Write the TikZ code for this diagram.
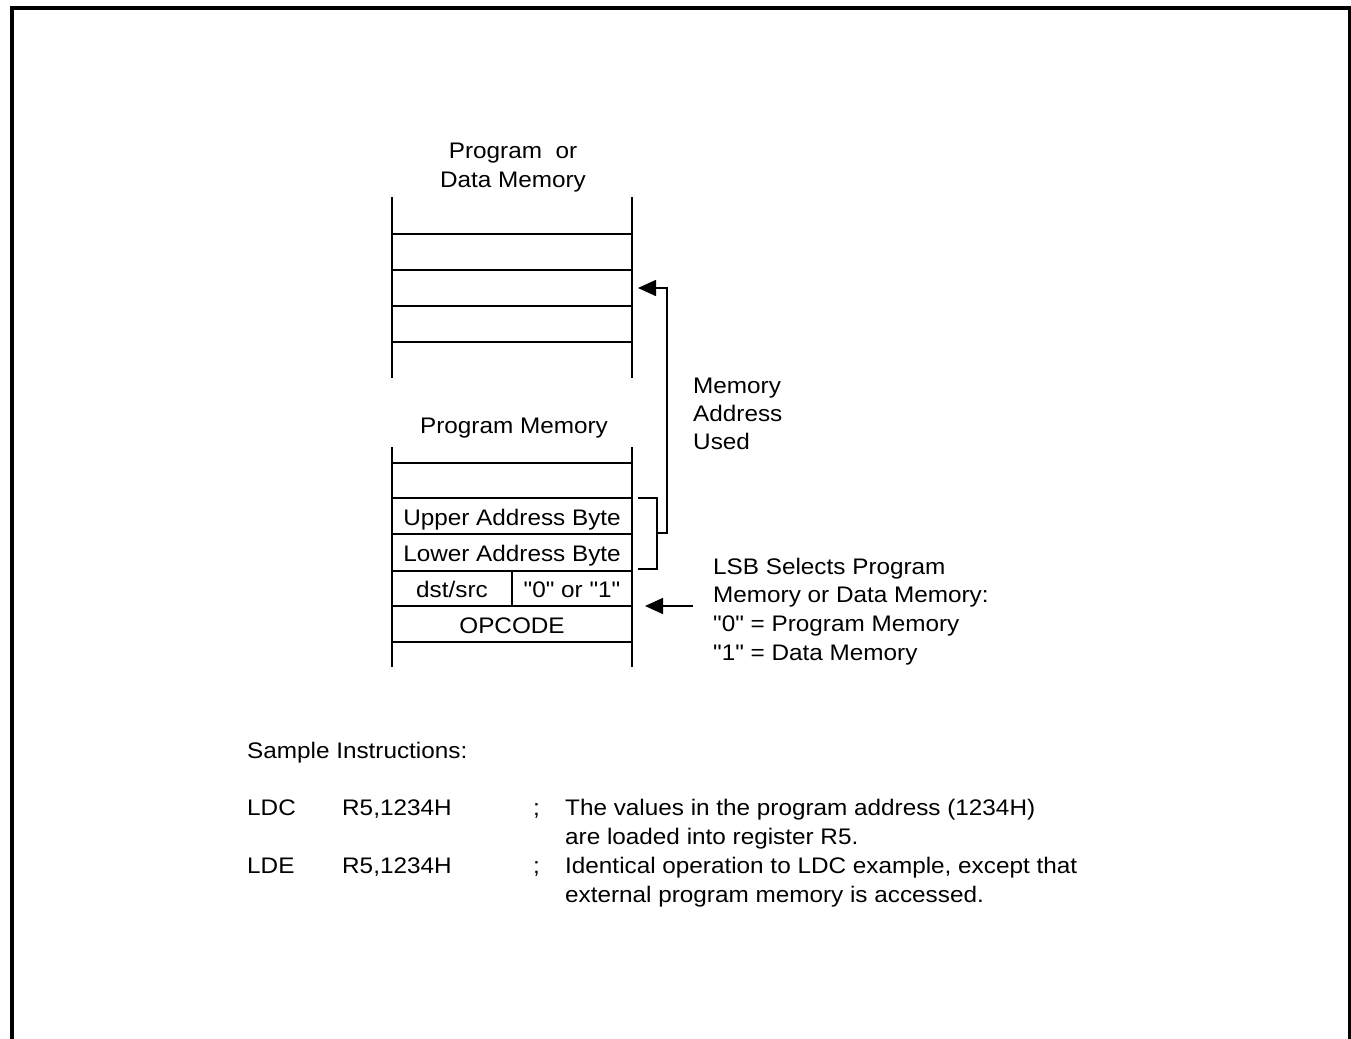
\documentclass[tikz,border=0pt]{standalone}
\usepackage{fontspec}
\setmainfont{Liberation Sans}[FakeStretch=1.08, Ligatures=TeXOff]
\usetikzlibrary{arrows.meta}
\begin{document}
\begin{tikzpicture}[x=1pt,y=-1pt,
  txt/.style={inner sep=0pt, font=\fontsize{22.5}{28.7}\selectfont},
  lbl/.style={txt, anchor=base},
  lft/.style={txt, anchor=base west},
  cellline/.style={line width=1.6pt},
  conn/.style={line width=1.6pt},
  arr/.style={conn, -{Triangle[length=18pt,width=16pt]}},
  frame/.style={line width=4pt}]
\useasboundingbox (0,0) rectangle (1351,1038);
% outer frame (open at the bottom)
\draw[frame] (12,1040) -- (12,8) -- (1350,8) -- (1350,1040);

% ---- Program or Data Memory
\node[lbl] (pdmtitle) at (513,158) {Program\ \ or};
\node[lbl] (pdmtitle2) at (513,187) {Data Memory};
\draw[cellline] (392,197) -- (392,378);
\draw[cellline] (632,197) -- (632,378);
\foreach \y in {234,270,306,342} \draw[cellline] (392,\y) -- (632,\y);

% ---- Program Memory
\node[lbl] (pmtitle) at (514,433) {Program Memory};
\draw[cellline] (392,447) -- (392,667);
\draw[cellline] (632,447) -- (632,667);
\foreach \y in {463,498,534,571,606,642} \draw[cellline] (392,\y) -- (632,\y);
\draw[cellline] (512,571) -- (512,606);
\node[lbl] (upper) at (512,525) {Upper Address Byte};
\node[lbl] (lower) at (512,561) {Lower Address Byte};
\node[lbl] (dst) at (452,597) {dst/src};
\node[lbl] (lsbcell) at (572,597) {"0" or "1"};
\node[lbl] (opcode) at (512,633) {OPCODE};

% ---- bracket and "Memory Address Used" arrow
\coordinate (bt) at (638,498);
\coordinate (bb) at (638,569);
\coordinate (bm) at (657,533);
\coordinate (target) at (638,288);
\draw[conn] (bt) -- (657,498) -- (657,569) -- (bb);
\draw[arr] (bm) -- (667,533) -- (667,288) -- (target);
\node[lft] (mau1) at (693,393) {Memory};
\node[lft] (mau2) at (693,421) {Address};
\node[lft] (mau3) at (693,449) {Used};

% ---- LSB arrow and text
\coordinate (lsbtail) at (693,606);
\coordinate (lsbtip) at (645,606);
\draw[arr] (lsbtail) -- (lsbtip);
\node[lft] (lsb1) at (713,574) {LSB Selects Program};
\node[lft] (lsb2) at (713,602.7) {Memory or Data Memory:};
\node[lft] (lsb3) at (713,631.4) {"0" = Program Memory};
\node[lft] (lsb4) at (713,660) {"1" = Data Memory};

% ---- Sample instructions
\node[lft] (sample) at (247,758) {Sample Instructions:};
\node[lft] (ldc) at (247,815) {LDC};
\node[lft] (ldcop) at (342,815) {R5,1234H};
\node[lft] (ldcsc) at (533,815) {;};
\node[lft] (ldccm) at (565,815) {The values in the program address (1234H)};
\node[lft] (ldccm2) at (565,844) {are loaded into register R5.};
\node[lft] (lde) at (247,873) {LDE};
\node[lft] (ldeop) at (342,873) {R5,1234H};
\node[lft] (ldesc) at (533,873) {;};
\node[lft] (ldecm) at (565,873) {Identical operation to LDC example, except that};
\node[lft] (ldecm2) at (565,902) {external program memory is accessed.};
\end{tikzpicture}
\end{document}
